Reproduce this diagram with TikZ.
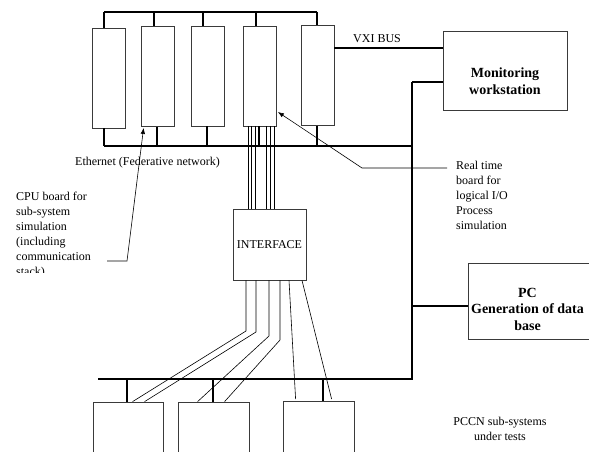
\documentclass[tikz,border=0pt]{standalone}
\usepackage{fontspec}
\setmainfont{Liberation Serif}
\usepackage{xcolor}
\usepackage{tikz}
\usetikzlibrary{positioning, arrows.meta, calc}
\definecolor{boxLine}{HTML}{3A3A3A}
\tikzset{
  board/.style={draw=boxLine, line width=0.8pt, minimum width=33pt, minimum height=100pt, inner sep=0pt},
  unit/.style={draw=boxLine, line width=0.8pt, inner sep=0pt},
  bus/.style={line width=2pt},
  wire/.style={line width=0.6pt},
  pointer/.style={line width=0.6pt, -{Latex[length=6pt,width=4.5pt]}},
  boldtxt/.style={align=center, font=\fontsize{14}{16.5}\selectfont\bfseries}
}

\begin{document}
\begin{tikzpicture}[x=1pt, y=-1pt, every node/.style={font=\fontsize{12}{15}\selectfont}]
        \clip (0,0) rectangle (589,452);
        % VXI boards
        \foreach \n/\x/\y in {1/108.5/78, 2/157.5/76.5, 3/207.5/76, 4/260/76, 5/317.5/75.5} {
          \node[board] (b\n) at (\x,\y) {};
        }
        % Units
        \node[unit, minimum width=124pt, minimum height=79pt] (mon) at (505,70.5) {};
        \node[boldtxt] (monTxt) at (505,81) {Monitoring\\workstation};
        \node[unit, minimum width=122pt, minimum height=76pt] (pc) at (529,301) {};
        \node[boldtxt] (pcTxt) at (527.5,309) {PC\\Generation of data\\base};
        \node[unit, minimum width=73pt, minimum height=71pt] (iface) at (269.5,244.5) {INTERFACE};
        \foreach \n/\x/\y/\w in {1/128/436/70, 2/213.5/436/71, 3/318.5/435.5/71} {
          \node[unit, minimum width=\w pt, minimum height=68pt] (s\n) at (\x,\y) {};
        }
        % Buses
        \coordinate (vxiL) at (104,12);
        \coordinate (vxiR) at (317,12);
        \coordinate (ethL) at (104,146);
        \coordinate (ethR) at (412,146);
        \coordinate (riseT) at (412,82);
        \coordinate (pcTap) at (412,306);
        \coordinate (riseB) at (412,379);
        \coordinate (pccnL) at (98,379);
        \draw[bus] (vxiL) -- (vxiR);
        \draw[bus] (ethL) -- (ethR);
        \draw[bus] (riseT) -- (riseB) -- (pccnL);
        \draw[bus] (riseT) -- (mon.west |- riseT);
        \draw[bus] (pcTap) -- (pc.west |- pcTap);
        \draw[bus] (b5.east |- 0,48) -- (mon.west |- 0,48);
        \foreach \n/\x in {1/104, 2/154, 3/203, 4/256, 5/317} {
          \draw[bus] (\x,0 |- vxiL) -- (\x,0 |- b\n.north);
        }
        \foreach \n/\x in {1/104, 2/157, 3/207, 4/259, 5/317} {
          \draw[bus] (\x,0 |- b\n.south) -- (\x,0 |- ethL);
        }
        \foreach \n/\x in {1/127, 2/213, 3/323} {
          \draw[bus] (\x,0 |- pccnL) -- (\x,0 |- s\n.north);
        }
        % Wires board -- interface -- sub-systems
        \foreach \x in {248, 251, 255, 266, 270, 274} {
          \draw[wire] (\x,0 |- b4.south) -- (\x,0 |- iface.north);
        }
        \foreach \x/\k/\s/\dx in {246/331/s1/40, 256/332/s1/52, 269/336/s2/20, 280/340/s2/47} {
          \draw[wire] (\x,0 |- iface.south) -- (\x,\k) -- ($(\s.north west)+(\dx,0)$);
        }
        \foreach \x/\dx in {289/13, 302/49} {
          \draw[wire] (\x,0 |- iface.south) -- ($(s3.north west)+(\dx,-2)$);
        }
        % Labels
        \node[anchor=west, inner sep=0pt] (vxiTxt) at (353,39) {VXI BUS};
        \node (ethTxt) at (147.5,163) {Ethernet (Federative network)};
        \begin{scope}
          \clip (0,0) rectangle (230,272);
          \node[anchor=north west, align=left, inner sep=0pt] (cpuTxt) at (16,192) {CPU board for\\sub-system\\simulation\\(including\\communication\\stack)};
        \end{scope}
        \node[anchor=north west, align=left, inner sep=0pt] (rtTxt) at (456,161) {Real time\\board for\\logical I/O\\Process\\simulation};
        \node[align=center] (pccnTxt) at (500,428.5) {PCCN sub-systems\\under tests};
        % Pointers
        \coordinate (cpuEnd) at (107,261);
        \coordinate (rtEnd) at (447,168);
        \draw[pointer] (cpuEnd) -- (127,261) -- ($(b2.south west)+(3,1)$);
        \draw[pointer] (rtEnd) -- (362,168) -- ($(b4.east)+(1,36)$);
      \end{tikzpicture}
\end{document}
